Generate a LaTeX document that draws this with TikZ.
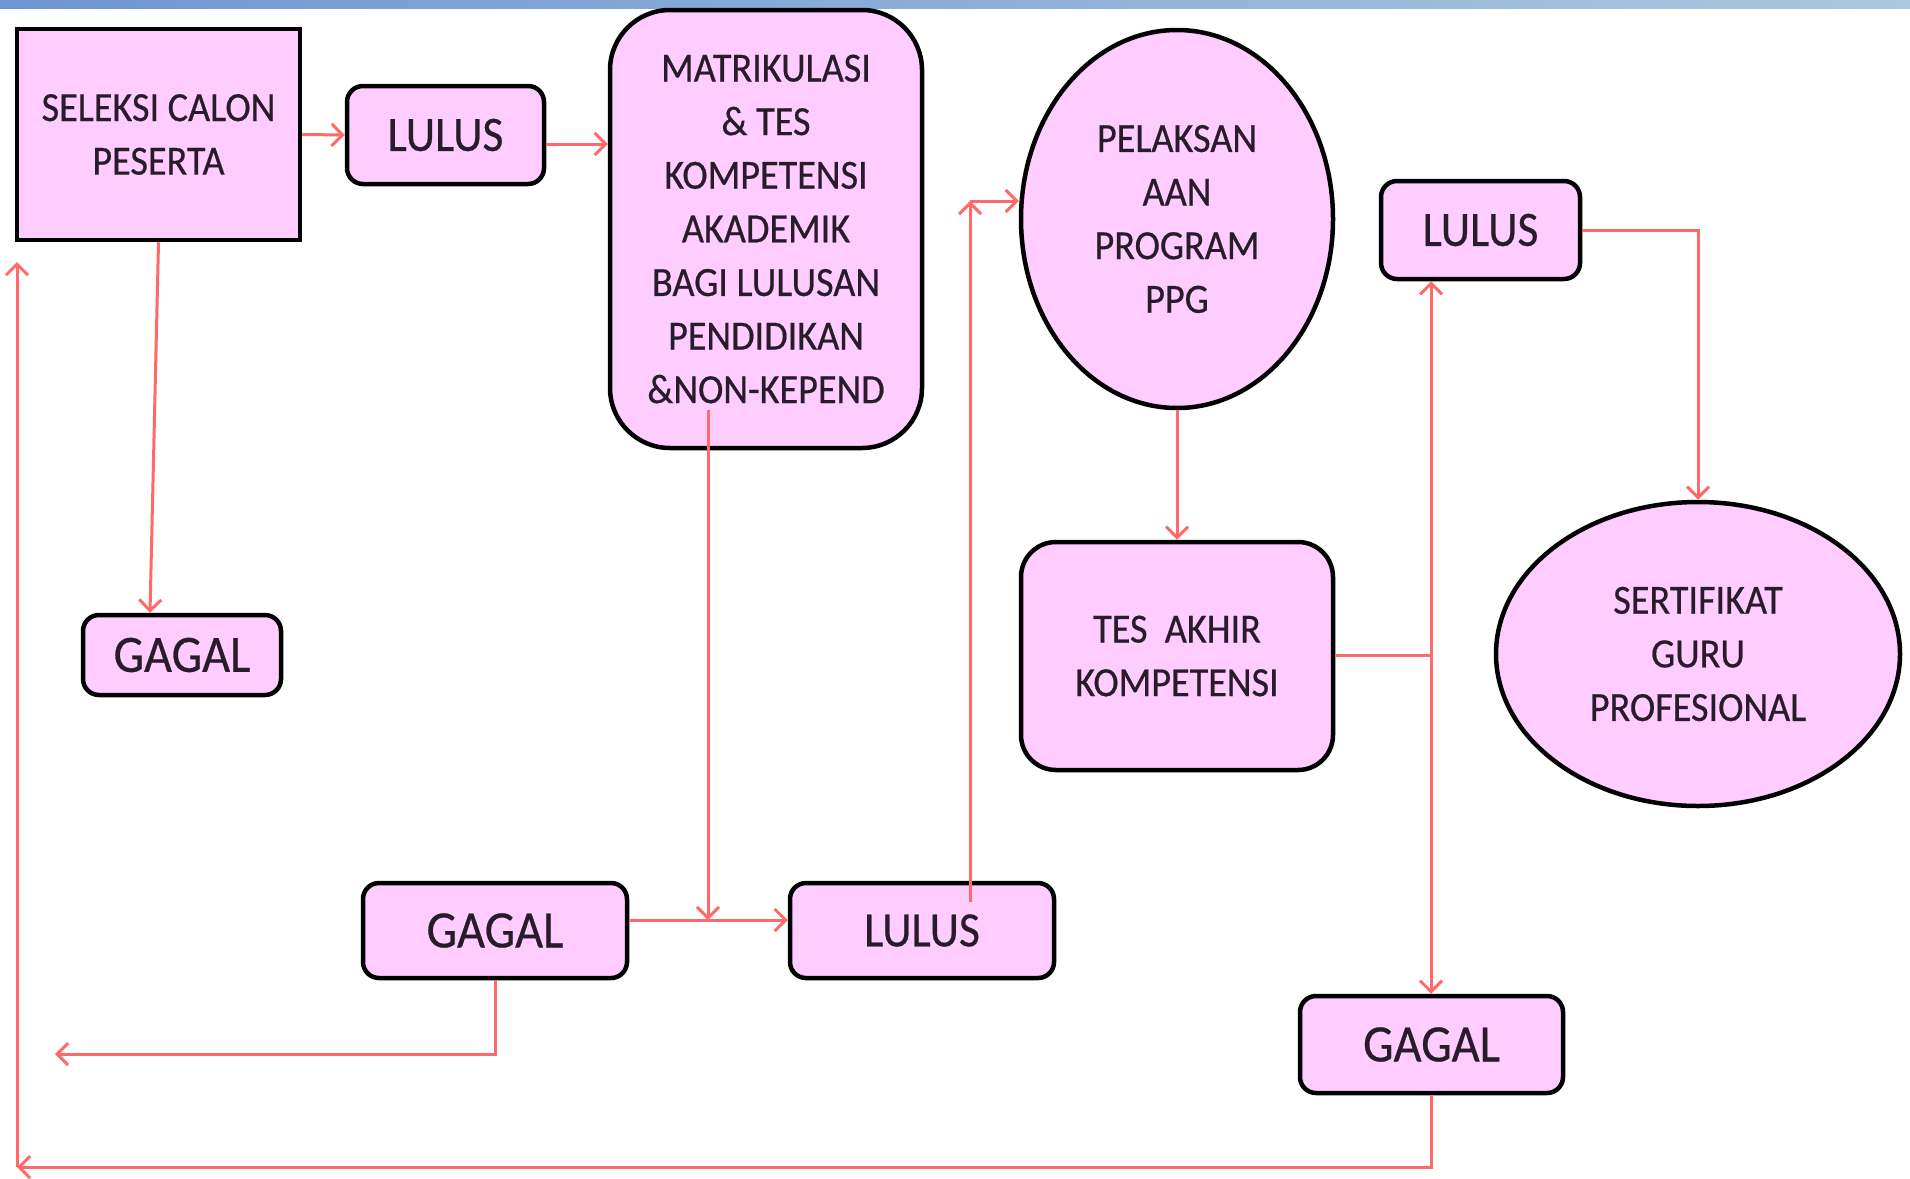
\documentclass[tikz,border=0pt]{standalone}
\usepackage{fontspec}
\setmainfont{Carlito}[FakeStretch=0.92,FakeBold=0.5]
\usetikzlibrary{arrows.meta,shapes.geometric,calc}
\definecolor{boxfill}{RGB}{255,204,255}
\definecolor{linkred}{RGB}{255,105,105}
\definecolor{txt}{RGB}{40,28,42}
\definecolor{barL}{RGB}{110,150,210}
\definecolor{barR}{RGB}{170,200,222}
\begin{document}
\begin{tikzpicture}[x=1pt,y=-1pt,
  box/.style={draw=black, line width=4.5pt, fill=boxfill, text=txt, align=center,
    inner sep=0pt, font=\fontsize{41.5}{53.6}\selectfont},
  rbox/.style={box, rounded corners=16pt},
  big/.style={font=\fontsize{49.5}{55}\selectfont},
  bigg/.style={font=\fontsize{52.5}{55}\selectfont},
  ebox/.style={box, ellipse},
  lnk/.style={draw=linkred, line width=3pt},
  arr/.style={lnk, -{Straight Barb[length=11pt,width=22pt,line width=3pt]}}]
\useasboundingbox (0,0) rectangle (1910,1178);
\fill[white] (0,0) rectangle (1910,1178);
\shade[left color=barL, right color=barR] (0,0) rectangle (1910,8);

\node[box, minimum width=283pt, minimum height=211pt] (seleksi) at (158.5,134.5)
  {SELEKSI CALON\\PESERTA};
\node[rbox, big, minimum width=197pt, minimum height=98pt] (lulusA) at (445.5,135) {LULUS};
\node[box, rounded corners=60pt, minimum width=312pt, minimum height=438pt] (matrik) at (766,229)
  {MATRIKULASI\\\& TES\\KOMPETENSI\\AKADEMIK\\BAGI LULUSAN\\PENDIDIKAN\\\&NON-KEPEND};
\node[ebox, minimum width=312pt, minimum height=378pt] (pelak) at (1177,219)
  {PELAKSAN\\AAN\\PROGRAM\\PPG};
\node[rbox, big, minimum width=199pt, minimum height=98pt] (lulusB) at (1480.5,230) {LULUS};
\node[box, rounded corners=35pt, minimum width=312pt, minimum height=228pt] (tes) at (1177,656)
  {TES\ \ AKHIR\\KOMPETENSI};
\node[ebox, minimum width=404pt, minimum height=304pt] (sert) at (1698,654)
  {SERTIFIKAT\\GURU\\PROFESIONAL};
\node[rbox, bigg, minimum width=198pt, minimum height=80pt] (gagalA) at (182,655) {GAGAL};
\node[rbox, bigg, minimum width=264pt, minimum height=95pt] (gagalB) at (495,930.5) {GAGAL};
\node[rbox, big, minimum width=264pt, minimum height=95pt] (lulusC) at (922,930.5) {LULUS};
\node[rbox, bigg, minimum width=263pt, minimum height=97pt] (gagalC) at (1431.5,1044.5) {GAGAL};

\coordinate (c2) at ($(lulusA.east)+(0,9)$);
\coordinate (m1) at (708,410);
\coordinate (m2) at (708,920);
\coordinate (u1) at (970,902);
\coordinate (u2) at (970,201);
\coordinate (J) at (1431,655);
\coordinate (f1) at (55,1054);
\coordinate (b1) at (17,1167);
\coordinate (b2) at (17,262);

\draw[arr] (seleksi.east) -- (lulusA.west);
\draw[arr] (c2) -- (c2 -| matrik.west);
\draw[arr] (seleksi.south) -- ($(gagalA.north)+(-32,0)$);
\draw[arr] (m1) -- (m2);
\draw[arr] (gagalB.east |- m2) -- (lulusC.west |- m2);
\draw[arr] (u1) -- (u2);
\draw[arr] (u2) -- (u2 -| pelak.west);
\draw[arr] (pelak.south) -- (tes.north);
\draw[lnk] (tes.east |- J) -- (J);
\draw[arr] (J) -- (J |- lulusB.south);
\draw[arr] (J) -- (J |- gagalC.north);
\draw[arr] (lulusB.east) -| (sert.north);
\draw[arr] (gagalB.south) |- (f1);
\draw[arr] (gagalC.south) |- (b1);
\draw[arr] (b1) -- (b2);
\end{tikzpicture}
\end{document}
